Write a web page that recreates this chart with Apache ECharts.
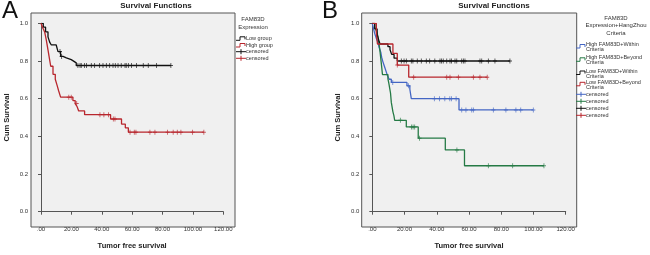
<!DOCTYPE html>
<html>
<head>
<meta charset="utf-8">
<script src="https://cdn.jsdelivr.net/npm/echarts@6/dist/echarts.min.js"></script>
<style>
  html, body { margin: 0; padding: 0; background: #fff; }
  #main { width: 650px; height: 255px; }
</style>
</head>
<body>
<div id="main"></div>
<script>
// tick labels (SPSS style)
var xTickLabels = ['.00', '20.00', '40.00', '60.00', '80.00', '100.00', '120.00'];
var yTickLabels = ['0.0', '0.2', '0.4', '0.6', '0.8', '1.0'];

// panel A - FAM83D expression
var aLowT = [0, 1.5, 3, 4.6, 5.7, 6.8, 10, 11.2, 12.9, 14.5, 16.7, 19.9, 21.7, 23.2, 85.5];
var aLowS = [1, 0.98, 0.955, 0.928, 0.90, 0.885, 0.876, 0.85, 0.824, 0.816, 0.807, 0.798, 0.79, 0.776, 0.776];
var aLowCens = [12.5, 13.6, 24.3, 25.7, 26.5, 28.7, 30, 33.1, 35.3, 38.6, 40.8, 43, 45.2, 47.4, 48.9, 50.7, 52.8, 55.3, 56.1, 57.5, 59.6, 62.9, 67.3, 70.6, 76.1, 85.5];

var aHighT = [0, 1.2, 2.4, 3.5, 4.6, 5.5, 6.4, 7.9, 9.4, 10.7, 11.6, 12.9, 21, 22.5, 23.8, 24.8, 28.7, 45.8, 53, 55.5, 57.5, 107.2];
var aHighS = [1, 0.975, 0.954, 0.911, 0.859, 0.815, 0.772, 0.729, 0.703, 0.668, 0.642, 0.608, 0.59, 0.574, 0.557, 0.535, 0.515, 0.492, 0.465, 0.445, 0.422, 0.422];
var aHighCens = [18.3, 19.9, 23.5, 38.8, 41.4, 44.5, 47.6, 48.7, 58.6, 61.4, 62.5, 71.7, 75, 83.3, 87, 89.7, 92.1, 99.8, 107.2];

// panel B - FAM83D expression + HangZhou criteria
var bHwT = [0, 0.8, 1.5, 2.5, 3.5, 4.3, 5.3, 5.8, 6.5, 7.5, 8.5, 9.5, 10.5, 11.8, 21.5, 23.3, 24.2, 53.8, 99.9];
var bHwS = [1, 0.97, 0.945, 0.92, 0.9, 0.87, 0.845, 0.82, 0.798, 0.772, 0.746, 0.72, 0.703, 0.686, 0.668, 0.65, 0.6, 0.54, 0.54];
var bHwCens = [12.7, 22.5, 38.5, 41.7, 45, 48.1, 49.1, 52, 55.5, 58.1, 61.7, 62.7, 75.1, 82.9, 89.1, 92.1, 99.9];

var bHbT = [0, 1.5, 2.7, 3.5, 4.2, 4.8, 5.3, 5.8, 6.3, 9.7, 10.3, 10.8, 11.3, 11.8, 12.3, 12.8, 13.4, 13.9, 21.1, 28.5, 45.3, 57.2, 106.5];
var bHbS = [1, 0.98, 0.955, 0.93, 0.89, 0.85, 0.81, 0.77, 0.728, 0.705, 0.68, 0.655, 0.63, 0.58, 0.555, 0.53, 0.51, 0.485, 0.45, 0.39, 0.328, 0.244, 0.244];
var bHbCens = [17.4, 24.3, 25.3, 26.3, 29.3, 52.5, 72, 87.1, 106.5];

var bLwT = [0, 1.5, 3, 4, 4.8, 9.7, 11, 12, 13.5, 15.5, 85.4];
var bLwS = [1, 0.97, 0.94, 0.91, 0.89, 0.876, 0.86, 0.835, 0.815, 0.80, 0.80];
var bLwCens = [18, 19.7, 21.1, 24.2, 25.2, 27.9, 30.4, 33.5, 35.6, 38.8, 42, 43, 44, 46.2, 48.2, 49.2, 51.3, 52.4, 55.5, 56.5, 57.5, 66.8, 67.9, 72, 76.1, 85.4];

var bLbT = [0, 2.5, 3.2, 12.8, 15.5, 22.6, 71.3];
var bLbS = [1, 0.95, 0.89, 0.84, 0.778, 0.714, 0.714];
var bLbCens = [15.5, 25.7, 46.2, 48.2, 53.4, 62.7, 66.8, 71.3];

var BLACK = '#111', RED = '#b8262d', BLUE = '#4466c4', GREEN = '#257a45';
var FONT = 'Liberation Sans, Arial, sans-serif';
var PLUS = 'path://M2,0H3V2H5V3H3V5H2V3H0V2H2Z';

function pairs(T, S) {
    return T.map(function (t, i) { return [t, S[i]]; });
}
// survival value of the curve at a censored time
function censPoints(T, S, C) {
    return C.map(function (c) {
        var s = S[0];
        for (var i = 0; i < T.length; i++) { if (T[i] <= c) s = S[i]; }
        return [c, s];
    });
}
function km(name, idx, T, S, color) {
    return {
        name: name, type: 'line', step: 'end', xAxisIndex: idx, yAxisIndex: idx,
        data: pairs(T, S), showSymbol: false, silent: true,
        lineStyle: { color: color, width: 1.3 }, z: 3
    };
}
function cens(idx, T, S, C, color) {
    return {
        name: 'censored', type: 'scatter', xAxisIndex: idx, yAxisIndex: idx,
        data: censPoints(T, S, C), symbol: PLUS, symbolSize: [4, 5], silent: true,
        itemStyle: { color: color }, z: 4
    };
}
function xAxis(idx) {
    return {
        gridIndex: idx, type: 'value', min: 0, max: 120, interval: 20, offset: 10.3,
        name: 'Tumor free survival', nameLocation: 'middle', nameGap: 20,
        nameTextStyle: { fontFamily: FONT, fontWeight: 'bold', fontSize: 7.5, color: '#222' },
        axisLine: { show: true, lineStyle: { color: '#555', width: 1 } },
        axisTick: { show: true, length: 3, lineStyle: { color: '#555' } },
        axisLabel: {
            fontFamily: FONT, fontSize: 6, color: '#333', margin: 4,
            formatter: function (v) { return xTickLabels[Math.round(v / 20)]; }
        },
        splitLine: { show: false }
    };
}
function yAxis(idx) {
    return {
        gridIndex: idx, type: 'value', min: 0, max: 1, interval: 0.2, offset: 10,
        name: 'Cum Survival', nameLocation: 'middle', nameGap: 20,
        nameTextStyle: { fontFamily: FONT, fontWeight: 'bold', fontSize: 7.5, color: '#222' },
        axisLine: { show: true, lineStyle: { color: '#555', width: 1 } },
        axisTick: { show: true, length: 3, lineStyle: { color: '#555' } },
        axisLabel: {
            fontFamily: FONT, fontSize: 6, color: '#333', margin: 3,
            formatter: function (v) { return yTickLabels[Math.round(v / 0.2)]; }
        },
        splitLine: { show: false }
    };
}

function txt(x, y, s, size, opts) {
    opts = opts || {};
    return {
        type: 'text', x: x, y: y, z: 5,
        style: {
            text: s, fontFamily: FONT, fontSize: size, fill: opts.color || '#333',
            fontWeight: opts.bold ? 'bold' : 'normal',
            align: opts.align || 'left', verticalAlign: 'middle'
        }
    };
}
function stepIcon(x, y, color) {
    return {
        type: 'polyline', z: 5,
        shape: { points: [[x, y + 2], [x + 4, y + 2], [x + 4, y - 1.5], [x + 9, y - 1.5], [x + 9, y + 1]] },
        style: { stroke: color, fill: null, lineWidth: 1 }
    };
}
function plusIcon(x, y, color) {
    return [
        { type: 'line', z: 5, shape: { x1: x, y1: y, x2: x + 10, y2: y }, style: { stroke: color, lineWidth: 1 } },
        { type: 'line', z: 5, shape: { x1: x + 5, y1: y - 2.5, x2: x + 5, y2: y + 2.5 }, style: { stroke: color, lineWidth: 1 } }
    ];
}

var graphics = [
    { type: 'rect', z: 0, shape: { x: 31, y: 13, width: 204, height: 214 }, style: { fill: '#f0f0f0', stroke: '#555', lineWidth: 1 } },
    { type: 'rect', z: 0, shape: { x: 361.7, y: 13, width: 215, height: 214 }, style: { fill: '#f0f0f0', stroke: '#555', lineWidth: 1 } },
    txt(2, 11, 'A', 24, { color: '#111' }),
    txt(322, 11, 'B', 24, { color: '#111' }),
    txt(156, 6, 'Survival Functions', 8, { bold: true, align: 'center', color: '#222' }),
    txt(494, 6, 'Survival Functions', 8, { bold: true, align: 'center', color: '#222' }),
    // legend A
    txt(253, 19.5, 'FAM83D', 6, { align: 'center' }),
    txt(253, 27, 'Expression', 6, { align: 'center' }),
    stepIcon(236, 38.3, BLACK), txt(246, 38.3, 'Low group', 5.5),
    stepIcon(236, 45, RED), txt(246, 45, 'High group', 5.5),
    txt(246, 51.7, 'censored', 5.5),
    txt(246, 58.3, 'censored', 5.5),
    // legend B
    txt(616, 18, 'FAM83D', 6, { align: 'center' }),
    txt(616, 25.7, 'Expression+HangZhou', 6, { align: 'center' }),
    txt(616, 33.3, 'Criteria', 6, { align: 'center' }),
    stepIcon(576, 46, BLUE), txt(586, 44.3, 'High FAM83D+Within', 5.5), txt(586, 49.3, 'Criteria', 5.5),
    stepIcon(576, 59.3, GREEN), txt(586, 57.7, 'High FAM83D+Beyond', 5.5), txt(586, 62.7, 'Criteria', 5.5),
    stepIcon(576, 72.5, BLACK), txt(586, 71, 'Low FAM83D+Within', 5.5), txt(586, 76, 'Criteria', 5.5),
    stepIcon(576, 83.8, RED), txt(586, 82, 'Low FAM83D+Beyond', 5.5), txt(586, 87.3, 'Criteria', 5.5),
    txt(586, 94.3, 'censored', 5.5),
    txt(586, 101.3, 'censored', 5.5),
    txt(586, 108.3, 'censored', 5.5),
    txt(586, 115.3, 'censored', 5.5)
];
graphics = graphics
    .concat(plusIcon(236, 51.7, BLACK)).concat(plusIcon(236, 58.3, RED))
    .concat(plusIcon(576, 94.3, BLUE)).concat(plusIcon(576, 101.3, GREEN))
    .concat(plusIcon(576, 108.3, BLACK)).concat(plusIcon(576, 115.3, RED));

var chart = echarts.init(document.getElementById('main'), null, { renderer: 'canvas' });
chart.setOption({
    animation: false,
    textStyle: { fontFamily: FONT },
    grid: [
        { left: 41, top: 23.3, width: 182.3, height: 193.4 },
        { left: 372.3, top: 23.3, width: 193.4, height: 193.4 }
    ],
    xAxis: [xAxis(0), xAxis(1)],
    yAxis: [yAxis(0), yAxis(1)],
    graphic: graphics,
    series: [
        km('Low group', 0, aLowT, aLowS, BLACK),
        km('High group', 0, aHighT, aHighS, RED),
        cens(0, aLowT, aLowS, aLowCens, BLACK),
        cens(0, aHighT, aHighS, aHighCens, RED),

        km('High FAM83D+Within Criteria', 1, bHwT, bHwS, BLUE),
        km('High FAM83D+Beyond Criteria', 1, bHbT, bHbS, GREEN),
        km('Low FAM83D+Within Criteria', 1, bLwT, bLwS, BLACK),
        km('Low FAM83D+Beyond Criteria', 1, bLbT, bLbS, RED),
        cens(1, bHwT, bHwS, bHwCens, BLUE),
        cens(1, bHbT, bHbS, bHbCens, GREEN),
        cens(1, bLwT, bLwS, bLwCens, BLACK),
        cens(1, bLbT, bLbS, bLbCens, RED)
    ]
});
</script>
</body>
</html>
